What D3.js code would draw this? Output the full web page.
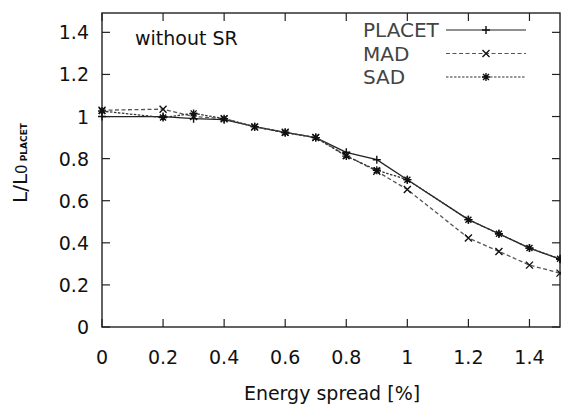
<!DOCTYPE html>
<html>
<head>
<meta charset="utf-8">
<script src="https://cdn.jsdelivr.net/npm/d3@7"></script>
<style>
  body { margin: 0; background: #fff; }
  svg { display: block; font-family: "DejaVu Sans", sans-serif; }
</style>
</head>
<body>
<svg id="chart" width="561" height="408"></svg>
<script>
// energy spread [%]
const spread = [0, 0.2, 0.3, 0.4, 0.5, 0.6, 0.7, 0.8, 0.9, 1.0, 1.2, 1.3, 1.4, 1.5];
// L / L0 PLACET
const placet = [1.0, 1.0, 0.99, 0.985, 0.952, 0.925, 0.9, 0.83, 0.795, 0.70, 0.51, 0.443, 0.375, 0.322];
const mad    = [1.03, 1.035, 1.0, 0.99, 0.95, 0.925, 0.9, 0.815, 0.74, 0.653, 0.423, 0.359, 0.294, 0.256];
const sad    = [1.026, 0.995, 1.015, 0.99, 0.952, 0.923, 0.9, 0.812, 0.745, 0.70, 0.51, 0.443, 0.375, 0.324];
const xTicks = [0, 0.2, 0.4, 0.6, 0.8, 1, 1.2, 1.4];
const yTicks = [0, 0.2, 0.4, 0.6, 0.8, 1, 1.2, 1.4];

const series = [
  {name: "PLACET", values: placet, dash: null, marker: "plus", color: "#222"},
  {name: "MAD", values: mad, dash: "4,2.5", marker: "cross", color: "#555"},
  {name: "SAD", values: sad, dash: "2.5,1.5", marker: "star", color: "#333"}
];

const svg = d3.select("#chart");
const mLeft = 102, mRight = 560, mTop = 13, mBottom = 327;

const x = d3.scaleLinear().domain([0, 1.5]).range([mLeft, mRight]);
const y = d3.scaleLinear().domain([0, 1.5]).range([mBottom, mTop - 1.7]);

const markerPath = {
  plus: "M-4,0H4M0,-4V4",
  cross: "M-3.5,-3.5L3.5,3.5M-3.5,3.5L3.5,-3.5",
  star: "M-4,0H4M0,-4V4M-3,-3L3,3M-3,3L3,-3"
};

// frame
svg.append("rect")
  .attr("x", mLeft).attr("y", mTop)
  .attr("width", mRight - mLeft).attr("height", mBottom - mTop)
  .attr("fill", "none").attr("stroke", "#222").attr("stroke-width", 1.4);

// ticks (inward, on all sides)
const tk = 8;
const tickG = svg.append("g").attr("stroke", "#222").attr("stroke-width", 1.2);
xTicks.forEach(t => {
  tickG.append("line").attr("x1", x(t)).attr("x2", x(t)).attr("y1", mBottom).attr("y2", mBottom - tk);
  tickG.append("line").attr("x1", x(t)).attr("x2", x(t)).attr("y1", mTop).attr("y2", mTop + tk);
});
yTicks.forEach(t => {
  tickG.append("line").attr("x1", mLeft).attr("x2", mLeft + tk).attr("y1", y(t)).attr("y2", y(t));
  tickG.append("line").attr("x1", mRight).attr("x2", mRight - tk).attr("y1", y(t)).attr("y2", y(t));
});

// tick labels
svg.append("g").selectAll("text").data(xTicks).join("text")
  .attr("x", d => x(d)).attr("y", 364)
  .attr("text-anchor", "middle")
  .attr("font-size", 19).attr("fill", "#111")
  .text(d => d3.format("")(d));

svg.append("g").selectAll("text").data(yTicks).join("text")
  .attr("x", 89).attr("y", d => y(d) + 7)
  .attr("text-anchor", "end")
  .attr("font-size", 19).attr("fill", "#111")
  .text(d => d3.format("")(d));

// axis titles
svg.append("text")
  .attr("x", 332).attr("y", 400)
  .attr("text-anchor", "middle")
  .attr("font-size", 19).attr("fill", "#111")
  .text("Energy spread [%]");

const yl = svg.append("text")
  .attr("transform", "translate(27,163) rotate(-90)")
  .attr("text-anchor", "middle")
  .attr("fill", "#111");
yl.append("tspan").attr("font-size", 20).text("L/L");
yl.append("tspan").attr("font-size", 15).text("0");
yl.append("tspan").attr("font-size", 9).attr("font-weight", "bold").text(" PLACET");

svg.append("text")
  .attr("x", 135).attr("y", 45)
  .attr("font-size", 19).attr("fill", "#111")
  .text("without SR");

// lines and markers
const line = d3.line().x(d => x(d[0])).y(d => y(d[1]));
const plot = svg.append("g");
series.forEach(s => {
  const pts = spread.map((v, i) => [v, s.values[i]]);
  plot.append("path")
    .attr("d", line(pts))
    .attr("fill", "none").attr("stroke", s.color).attr("stroke-width", 1.3)
    .attr("stroke-dasharray", s.dash);
  plot.append("g").selectAll("path").data(pts).join("path")
    .attr("transform", d => `translate(${x(d[0])},${y(d[1])})`)
    .attr("d", markerPath[s.marker])
    .attr("fill", "none").attr("stroke", "#111").attr("stroke-width", 1.4);
});

// legend
const leg = svg.append("g");
series.forEach((s, i) => {
  const ly = 30 + i * 23.5;
  leg.append("text")
    .attr("x", 363).attr("y", ly + 7)
    .attr("font-size", 20).attr("fill", "#444")
    .text(s.name);
  leg.append("line")
    .attr("x1", 446).attr("x2", 526).attr("y1", ly).attr("y2", ly)
    .attr("stroke", s.color).attr("stroke-width", 1.2)
    .attr("stroke-dasharray", s.dash);
  leg.append("path")
    .attr("transform", `translate(486,${ly})`)
    .attr("d", markerPath[s.marker])
    .attr("fill", "none").attr("stroke", "#111").attr("stroke-width", 1.4);
});
</script>
</body>
</html>
